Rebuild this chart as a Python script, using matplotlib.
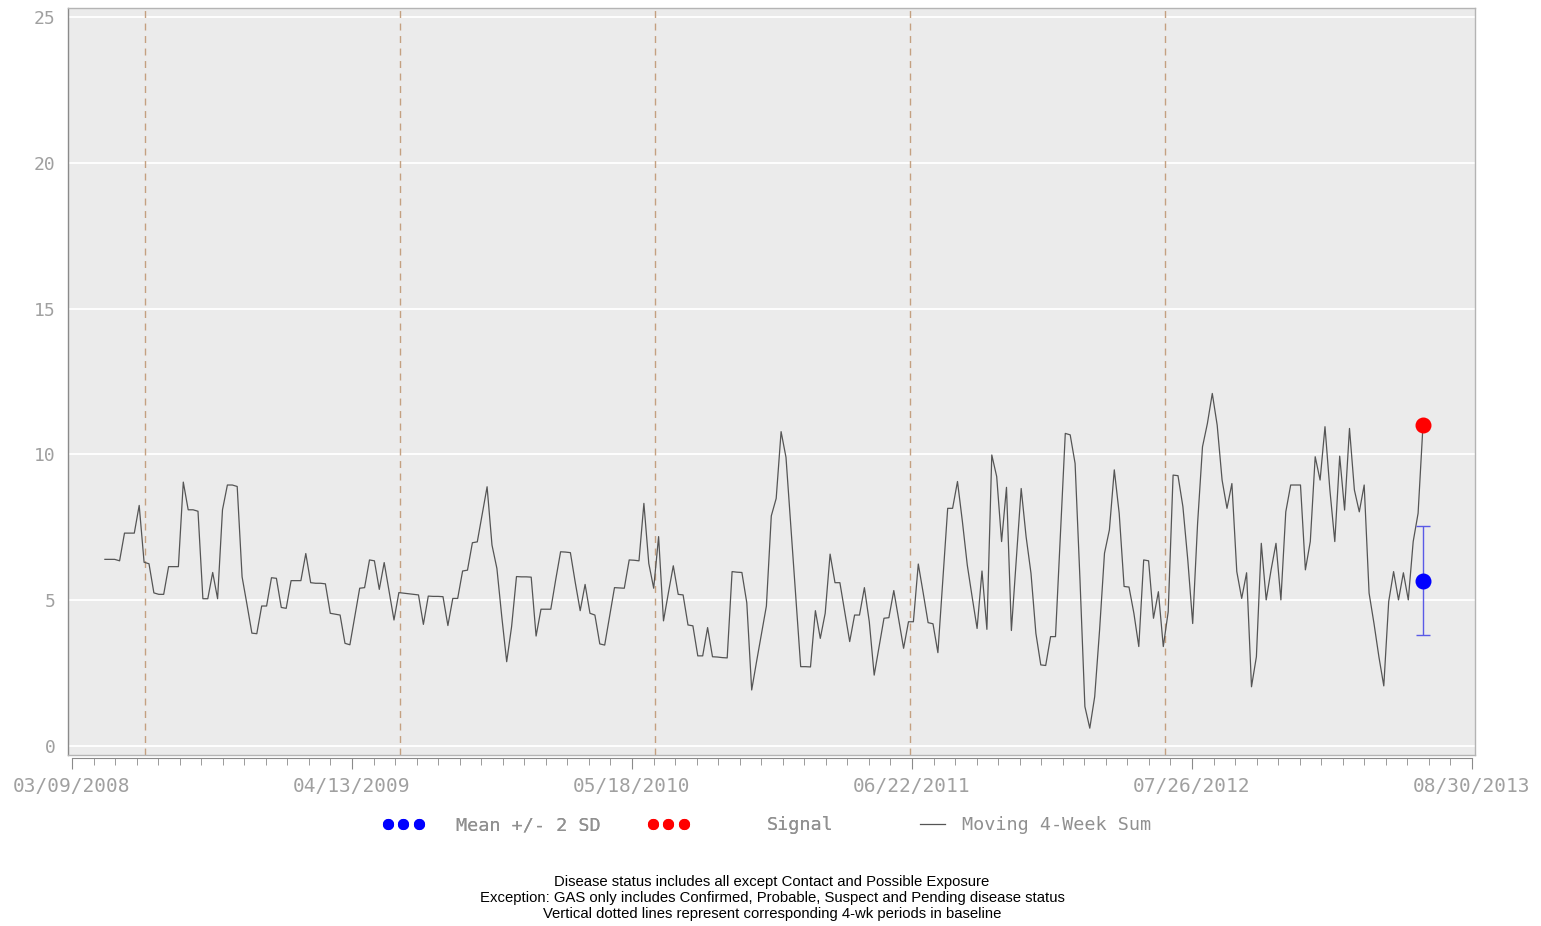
import matplotlib
matplotlib.use('Agg')
import matplotlib.pyplot as plt
import matplotlib.dates as mdates
from matplotlib.lines import Line2D
import pandas as pd

# ---------------- data ----------------
first_week = '2008-04-25'
moving_sum = [
    6.4, 6.4, 6.4, 6.35, 7.3, 7.3, 7.3, 8.25, 6.3, 6.25,
    5.25, 5.2, 5.2, 6.15, 6.15, 6.15, 9.05, 8.1, 8.1, 8.05,
    5.05, 5.05, 5.95, 5.05, 8.1, 8.95, 8.95, 8.9, 5.8, 4.85,
    3.87, 3.85, 4.8, 4.8, 5.77, 5.75, 4.75, 4.72, 5.67, 5.67,
    5.67, 6.6, 5.6, 5.58, 5.58, 5.56, 4.55, 4.52, 4.49, 3.52,
    3.47, 4.45, 5.41, 5.43, 6.38, 6.35, 5.37, 6.29, 5.3, 4.32,
    5.26, 5.24, 5.22, 5.2, 5.18, 4.17, 5.14, 5.13, 5.13, 5.12,
    4.13, 5.06, 5.06, 6.0, 6.03, 6.97, 7.0, 7.95, 8.89, 6.89,
    6.09, 4.43, 2.89, 4.09, 5.81, 5.8, 5.8, 5.79, 3.77, 4.69,
    4.69, 4.69, 5.7, 6.66, 6.65, 6.63, 5.6, 4.64, 5.54, 4.55,
    4.49, 3.5, 3.46, 4.45, 5.43, 5.42, 5.41, 6.38, 6.37, 6.35,
    8.32, 6.26, 5.41, 7.18, 4.29, 5.25, 6.18, 5.2, 5.18, 4.15,
    4.12, 3.09, 3.09, 4.06, 3.06, 3.05, 3.03, 3.02, 5.98, 5.96,
    5.95, 4.91, 1.92, 2.9, 3.85, 4.8, 7.89, 8.49, 10.78, 9.9,
    7.5, 5.1, 2.72, 2.72, 2.71, 4.64, 3.69, 4.55, 6.58, 5.6,
    5.6, 4.6, 3.58, 4.49, 4.49, 5.43, 4.26, 2.43, 3.4, 4.38,
    4.4, 5.33, 4.35, 3.35, 4.26, 4.26, 6.24, 5.25, 4.23, 4.19,
    3.2, 5.7, 8.15, 8.15, 9.07, 7.7, 6.2, 5.1, 4.03, 6.0,
    4.0, 9.98, 9.24, 7.01, 8.87, 3.96, 6.4, 8.83, 7.18, 5.92,
    3.86, 2.78, 2.76, 3.75, 3.75, 7.2, 10.72, 10.67, 9.69, 5.69,
    1.35, 0.61, 1.69, 3.98, 6.61, 7.41, 9.47, 7.98, 5.47, 5.45,
    4.55, 3.41, 6.38, 6.35, 4.38, 5.29, 3.41, 4.6, 9.29, 9.27,
    8.21, 6.38, 4.2, 7.63, 10.26, 11.06, 12.09, 11.0, 9.12, 8.15,
    9.0, 5.98, 5.06, 5.94, 2.03, 3.06, 6.95, 5.01, 6.04, 6.95,
    5.01, 8.03, 8.95, 8.95, 8.95, 6.04, 7.01, 9.92, 9.12, 10.95,
    8.78, 7.01, 9.94, 8.09, 10.89, 8.78, 8.03, 8.95, 5.24, 4.2,
    3.06, 2.06, 4.95, 5.98, 5.01, 5.94, 5.01, 7.01, 7.98, 11.0,
]
current_mean = 5.67
current_sd = 0.93
signal_value = 11.0
baseline_periods = ['2008-06-22', '2009-06-21', '2010-06-20', '2011-06-19', '2012-06-17']
axis_start = '2008-03-09'
major_step_days = 400
minor_per_major = 13
n_major = 6
y_ticks = [0, 5, 10, 15, 20, 25]
legend_labels = ['Mean +/- 2 SD', 'Signal', 'Moving 4-Week Sum']
notes = [
    'Disease status includes all except Contact and Possible Exposure',
    'Exception: GAS only includes Confirmed, Probable, Suspect and Pending disease status',
    'Vertical dotted lines represent corresponding 4-wk periods in baseline',
]

# ---------------- figure ----------------
W, H = 1541, 926
MONO = 'DejaVu Sans Mono'
fig = plt.figure(figsize=(W / 100, H / 100), dpi=100)
fig.patch.set_facecolor('white')

ax_l, ax_r, ax_t, ax_b = 68, 1475, 8, 755
ax = fig.add_axes([ax_l / W, 1 - ax_b / H, (ax_r - ax_l) / W, (ax_b - ax_t) / H])
ax.set_facecolor('#ebebeb')
for name, sp in ax.spines.items():
    sp.set_color('#b4b4b4')
    sp.set_linewidth(1.0)
ax.spines['left'].set_color('#8a8a8a')

weeks = pd.date_range(first_week, periods=len(moving_sum), freq='7D')
x0 = pd.Timestamp(axis_start)
xlim = (mdates.date2num(x0 - pd.Timedelta(days=5.7)),
        mdates.date2num(x0 + pd.Timedelta(days=2004.3)))
ax.set_xlim(xlim)
ax.set_ylim(-0.31, 25.31)

ax.set_yticks(y_ticks)
ax.yaxis.grid(True, color='white', linewidth=1.3)
ax.xaxis.grid(False)
ax.set_axisbelow(True)
ax.tick_params(axis='y', length=0, pad=9, labelcolor='#a0a0a0', labelsize=13)
for lab in ax.get_yticklabels():
    lab.set_family(MONO)
ax.tick_params(axis='x', bottom=False, labelbottom=False)

for d in baseline_periods:
    ax.axvline(mdates.date2num(pd.Timestamp(d)), color='#c4a080', linewidth=1.0,
               linestyle=(0, (5, 4)), zorder=1)

wnum = mdates.date2num(weeks)
ax.plot(wnum, moving_sum, color='#555555', linewidth=0.9, zorder=3)
ax.errorbar([wnum[-1]], [current_mean], yerr=[2 * current_sd], fmt='o', color='blue',
            ecolor='#5a5ae6', elinewidth=1.0, capsize=5, capthick=1.0,
            markersize=10.5, zorder=5)
ax.plot([wnum[-1]], [signal_value], 'o', color='red', markersize=10.5, zorder=6)

# separate tick axis below the plot box
axt = fig.add_axes([ax_l / W, 1 - 758 / H, (ax_r - ax_l) / W, 0.0001])
axt.set_facecolor('none')
axt.set_xlim(xlim)
for name in ['left', 'right', 'top']:
    axt.spines[name].set_visible(False)
axt.spines['bottom'].set_color('#8a8a8a')
x0n = mdates.date2num(x0)
axt.spines['bottom'].set_bounds(x0n, x0n + major_step_days * (n_major - 1))
axt.set_yticks([])
major = [x0n + major_step_days * k for k in range(n_major)]
minor = [x0n + major_step_days * k / minor_per_major
         for k in range(minor_per_major * (n_major - 1) + 1)]
axt.set_xticks(major)
axt.set_xticks(minor, minor=True)
axt.xaxis.set_major_formatter(mdates.DateFormatter('%m/%d/%Y'))
axt.tick_params(axis='x', which='major', length=8, color='#8a8a8a', pad=6,
                labelcolor='#a0a0a0', labelsize=14)
axt.tick_params(axis='x', which='minor', length=5, color='#8a8a8a')
for lab in axt.get_xticklabels():
    lab.set_family(MONO)

# legend
leg_y = 1 - 825 / H
h1 = Line2D([], [], marker='o', linestyle='none', color='blue', markersize=7)
h2 = Line2D([], [], marker='o', linestyle='none', color='red', markersize=7)
h3 = Line2D([], [], color='#555555', linewidth=0.9)
common = dict(loc='center left', frameon=False, labelcolor='#909090',
              prop={'family': MONO, 'size': 13.3},
              numpoints=3, borderaxespad=0, borderpad=0)
l1 = fig.legend(handles=[h1], labels=[legend_labels[0]], bbox_to_anchor=(382 / W, leg_y),
                handlelength=2.3, handletextpad=1.7, **common)
fig.add_artist(l1)
l2 = fig.legend(handles=[h2], labels=[legend_labels[1]], bbox_to_anchor=(647 / W, leg_y),
                handlelength=2.3, handletextpad=4.2, **common)
fig.add_artist(l2)
l3 = fig.legend(handles=[h3], labels=[legend_labels[2]], bbox_to_anchor=(914 / W, leg_y),
                handlelength=2.0, handletextpad=0.6, **common)

for i, t in enumerate(notes):
    fig.text(0.501, 1 - (882 + 16 * i) / H, t, ha='center', va='center',
             fontsize=10.7, family='Liberation Sans', color='black')

fig.savefig('out.png', dpi=100)
